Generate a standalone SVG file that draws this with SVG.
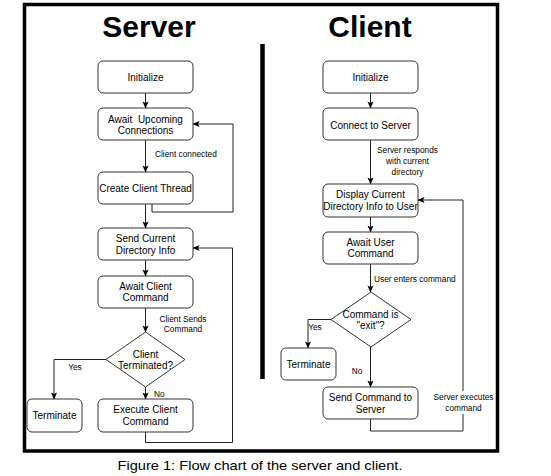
<svg xmlns="http://www.w3.org/2000/svg" width="551" height="476" viewBox="0 0 551 476">
<defs>
<marker id="arr" viewBox="0 0 8 8" refX="7.5" refY="4" markerWidth="7" markerHeight="7" markerUnits="userSpaceOnUse" orient="auto">
<path d="M0,0.5 L8,4 L0,7.5 L1.8,4 Z" fill="#000"/>
</marker>
<style>
.box{fill:#fff;stroke:#333;stroke-width:1}
.t{font-family:"Liberation Sans",Arial,sans-serif;font-size:10px;fill:#000;text-anchor:middle;dominant-baseline:central}
.l{font-family:"Liberation Sans",Arial,sans-serif;font-size:8.3px;fill:#000;dominant-baseline:central}
.c{text-anchor:middle}
.e{fill:none;stroke:#222;stroke-width:1}
.h{font-family:"Liberation Sans",Arial,sans-serif;font-size:30px;font-weight:bold;fill:#000;text-anchor:middle}
</style>
</defs>
<rect width="551" height="476" fill="#fff"/>
<rect x="24.5" y="4.5" width="473" height="446.5" fill="none" stroke="#000" stroke-width="3.5"/>
<line x1="262.5" y1="44" x2="262.5" y2="379" stroke="#000" stroke-width="4.5"/>
<text class="h" x="149" y="37">Server</text>
<text class="h" x="370" y="37">Client</text>

<g id="connectors">
<path class="e" d="M145.5,93 V108" marker-end="url(#arr)"/>
<path class="e" d="M145.5,140 V172" marker-end="url(#arr)"/>
<path class="e" d="M152,204 V212 H233 V124 H193" marker-end="url(#arr)"/>
<path class="e" d="M145.5,204 V228" marker-end="url(#arr)"/>
<path class="e" d="M145.5,260 V276" marker-end="url(#arr)"/>
<path class="e" d="M145.5,308 V332" marker-end="url(#arr)"/>
<path class="e" d="M106,359.5 H54 V399" marker-end="url(#arr)"/>
<path class="e" d="M145.5,387 V399" marker-end="url(#arr)"/>
<path class="e" d="M145.5,432 V442.5 H232.5 V248 H193" marker-end="url(#arr)"/>

<path class="e" d="M370.5,93 V108" marker-end="url(#arr)"/>
<path class="e" d="M370.5,140 V184" marker-end="url(#arr)"/>
<path class="e" d="M370.5,217 V232" marker-end="url(#arr)"/>
<path class="e" d="M370.5,264 V292" marker-end="url(#arr)"/>
<path class="e" d="M331,319.5 H308 V348" marker-end="url(#arr)"/>
<path class="e" d="M370.5,347 V387" marker-end="url(#arr)"/>
<path class="e" d="M370.5,419 V431 H463 V200 H418" marker-end="url(#arr)"/>

<text class="l" x="155" y="154">Client connected</text>
<text class="l c" x="183" y="319">Client Sends</text>
<text class="l c" x="183" y="329">Command</text>
<text class="l c" x="75" y="367">Yes</text>
<text class="l" x="154" y="394">No</text>

<text class="l c" x="407.5" y="150">Server responds</text>
<text class="l c" x="407.5" y="161">with current</text>
<text class="l c" x="407.5" y="172">directory</text>
<text class="l" x="374" y="279">User enters command</text>
<text class="l c" x="315" y="327">Yes</text>
<text class="l c" x="357" y="371">No</text>
<rect x="431" y="391" width="64" height="23" fill="#fff"/>
<text class="l c" x="463.5" y="397">Server executes</text>
<text class="l c" x="463.5" y="408">command</text>
</g>

<g id="s_init"><rect class="box" x="98" y="61" width="95" height="32" rx="5"/><text class="t" x="145.5" y="77">Initialize</text></g>
<g id="s_await_conn"><rect class="box" x="98" y="108" width="95" height="32" rx="5"/><text class="t" x="145.5" y="119" xml:space="preserve">Await  Upcoming</text><text class="t" x="145.5" y="130.5">Connections</text></g>
<g id="s_thread"><rect class="box" x="98" y="172" width="95" height="32" rx="5"/><text class="t" x="145.5" y="188">Create Client Thread</text></g>
<g id="s_send_dir"><rect class="box" x="98" y="228" width="95" height="32" rx="5"/><text class="t" x="145.5" y="238.5">Send Current</text><text class="t" x="145.5" y="250">Directory Info</text></g>
<g id="s_await_cmd"><rect class="box" x="98" y="276" width="95" height="32" rx="5"/><text class="t" x="145.5" y="286">Await Client</text><text class="t" x="145.5" y="297.5">Command</text></g>
<g id="s_decision"><path class="box" d="M145.5,332 L185,359.5 L145.5,387 L106,359.5 Z"/><text class="t" x="145.5" y="354">Client</text><text class="t" x="145.5" y="365.5">Terminated?</text></g>
<g id="s_terminate"><rect class="box" x="27" y="399" width="55" height="33" rx="5"/><text class="t" x="54.5" y="415.5">Terminate</text></g>
<g id="s_execute"><rect class="box" x="98" y="399" width="95" height="33" rx="5"/><text class="t" x="145.5" y="409.5">Execute Client</text><text class="t" x="145.5" y="421">Command</text></g>

<g id="c_init"><rect class="box" x="323" y="61" width="95" height="32" rx="5"/><text class="t" x="370.5" y="77">Initialize</text></g>
<g id="c_connect"><rect class="box" x="323" y="108" width="95" height="32" rx="5"/><text class="t" x="370.5" y="125">Connect to Server</text></g>
<g id="c_display"><rect class="box" x="323" y="184" width="95" height="33" rx="5"/><text class="t" x="370.5" y="194.5">Display Current</text><text class="t" x="370.5" y="206">Directory Info to User</text></g>
<g id="c_await"><rect class="box" x="323" y="232" width="95" height="32" rx="5"/><text class="t" x="370.5" y="242">Await User</text><text class="t" x="370.5" y="253.5">Command</text></g>
<g id="c_decision"><path class="box" d="M371,292 L411,319.5 L371,347 L331,319.5 Z"/><text class="t" x="370.5" y="314">Command is</text><text class="t" x="370.5" y="325.5">"exit"?</text></g>
<g id="c_terminate"><rect class="box" x="281" y="348" width="55" height="32" rx="5"/><text class="t" x="308.5" y="364">Terminate</text></g>
<g id="c_send"><rect class="box" x="323" y="387" width="95" height="32" rx="5"/><text class="t" x="370.5" y="397.5">Send Command to</text><text class="t" x="370.5" y="409">Server</text></g>

<text x="260" y="469.5" font-family="Liberation Sans, Arial, sans-serif" font-size="13" text-anchor="middle" textLength="285" lengthAdjust="spacingAndGlyphs" fill="#000">Figure 1: Flow chart of the server and client.</text>
</svg>
